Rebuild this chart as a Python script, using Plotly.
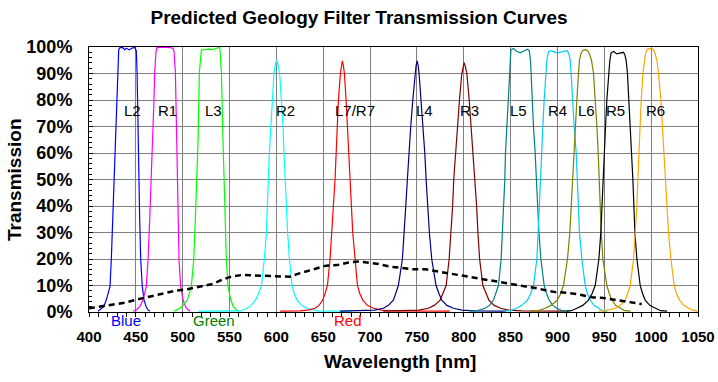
import plotly.graph_objects as go

# ---------------- data ----------------
L2_nm = [409.6, 411.4, 415.7, 418.5, 422.4, 423.8, 425.3, 427.4, 428.8, 429.9, 430.6, 431.7, 433, 436, 438, 440, 443, 446, 449, 450.5, 451.3, 452.3, 453.2, 454.1, 455.2, 456.9, 458.7, 461, 463, 465]
L2_t = [0.3, 0.8, 2.0, 4.6, 9.6, 19.7, 35, 50, 67.9, 80.5, 90.6, 98.9, 99.8, 99.8, 99.0, 99.5, 98.9, 99.6, 99.8, 98.5, 90.6, 65, 50, 35, 19.7, 9.6, 4.6, 2.0, 0.8, 0.3]

R1_nm = [447, 450.5, 454.5, 457.7, 461.2, 463, 464.8, 466.5, 467.6, 469.4, 470.1, 471.5, 472.6, 476, 481, 486, 489.7, 490.8, 492.2, 493.6, 494.3, 495, 496.1, 497.9, 500.4, 503, 505.7, 508]
R1_t = [0.3, 0.8, 2.2, 4.6, 9.6, 19.7, 35, 50, 65, 80.5, 90.6, 98.2, 99.8, 99.9, 99.9, 99.8, 99.5, 98.2, 90.6, 65, 50, 35, 19.7, 9.6, 4.6, 2.0, 0.8, 0.3]

L3_nm = [491, 494, 497.5, 500.5, 505, 509.2, 511.8, 513.5, 515.3, 516.4, 517.8, 519.3, 520, 524, 528, 532, 536, 539.5, 539.9, 541.3, 543, 544.1, 545.5, 546.6, 548.4, 551.3, 554, 557.3, 560]
L3_t = [0.3, 0.8, 1.6, 2.6, 4.6, 9.6, 19.7, 35, 50, 65, 90.6, 97.6, 98.9, 99.0, 99.2, 99.0, 99.4, 99.9, 98.5, 90.6, 65, 50, 35, 19.7, 9.6, 4.6, 2.0, 0.8, 0.3]

R2_nm = [517, 540, 555, 561.6, 568.7, 573, 577.6, 581, 584, 587.2, 589.3, 590.7, 591.4, 592.5, 593.9, 595.3, 597.4, 599, 600.3, 601.6, 603.5, 605.3, 607.1, 608.1, 609.2, 610.3, 612, 613.9, 616.7, 619, 622, 627, 632.7, 643.4, 660, 680]
R2_t = [0.3, 0.3, 0.3, 0.4, 1.4, 2.5, 4.5, 7, 10, 20, 30, 40, 50, 60, 70, 80, 90, 93.5, 95.1, 93.5, 90, 80, 70, 60, 50, 40, 30, 20, 10, 7, 4.5, 2.5, 1.4, 0.4, 0.3, 0.3]

L7_nm = [604, 625, 635, 641.3, 645.5, 649.5, 652, 654.5, 657.3, 659.4, 660.8, 662.6, 663.7, 664.8, 666.2, 668.3, 669.3, 670.4, 671.5, 672.6, 674.4, 675.8, 677.3, 678.3, 679.7, 681.5, 684, 686.5, 689, 692.2, 697, 703.6, 712, 725, 785]
L7_t = [0.3, 0.4, 0.8, 1.4, 2.5, 4.5, 7, 10, 20, 30, 40, 50, 60, 70, 80, 90, 93, 94.8, 93, 90, 80, 70, 60, 50, 40, 30, 20, 10, 7, 4.5, 2.5, 1.4, 0.7, 0.4, 0.3]

L4_nm = [668, 695, 705, 714.2, 719.5, 724.9, 727.5, 730.2, 734.5, 736.6, 738.1, 739.8, 741.3, 743.4, 745.6, 748, 749.1, 750.2, 751.3, 752.3, 754.4, 756.6, 758.4, 759.8, 761.5, 763.3, 765.8, 770.4, 773.5, 776.5, 782, 788.9, 798, 812, 845]
L4_t = [0.3, 0.4, 0.7, 1.4, 2.5, 4.5, 7, 10, 20, 30, 40, 50, 60, 70, 80, 90, 93, 94.8, 93, 90, 80, 70, 60, 50, 40, 30, 20, 10, 7, 4.5, 2.5, 1.4, 0.7, 0.4, 0.3]

R3_nm = [714, 740, 752, 762.3, 768.5, 774.8, 778, 781.2, 784.4, 786.6, 788.1, 789.3, 791.2, 793.3, 795.4, 797.9, 799.2, 800.4, 801.8, 803.3, 805.8, 807.9, 809.7, 811.5, 813.7, 815.1, 816.9, 820.4, 823.5, 826.8, 832.5, 839.3, 848, 862, 910]
R3_t = [0.3, 0.4, 0.7, 1.4, 2.5, 4.5, 7, 10, 20, 30, 40, 50, 60, 70, 80, 90, 92.5, 94.1, 92.5, 90, 80, 70, 60, 50, 40, 30, 20, 10, 7, 4.5, 2.5, 1.4, 0.7, 0.4, 0.3]

L5_nm = [806, 815, 822.8, 827.5, 831.7, 834.5, 837, 839.9, 841.3, 842.4, 843.8, 844.5, 846, 847, 848.4, 849.2, 850.3, 853, 856, 860.2, 864, 868, 870, 871.2, 871.9, 873, 874.4, 876.2, 877.3, 878.8, 880.2, 882.3, 885.8, 888.3, 891.1, 895, 899.4, 905, 912]
L5_t = [0.3, 0.5, 1.4, 2.5, 4.5, 7, 10, 20, 30, 40, 50, 60, 70, 80, 90, 95, 98.9, 99.4, 98.5, 97.8, 98.6, 99.2, 98.5, 95, 90, 80, 70, 60, 50, 40, 30, 20, 10, 7, 4.5, 2.5, 1.4, 0.5, 0.3]

R4_nm = [842, 850, 856.6, 862, 868, 871.5, 874.4, 878, 879.4, 880.5, 881.5, 882.6, 884.4, 885.8, 887.6, 888.7, 890.4, 893, 899.4, 905, 910.7, 912.5, 913.6, 914.6, 916, 917.8, 920, 921.4, 922.4, 923.5, 926, 929.6, 932, 934.9, 939, 943.8, 948, 953]
R4_t = [0.3, 0.5, 1.4, 2.5, 4.5, 7, 10, 20, 30, 40, 50, 60, 70, 80, 90, 95, 98.2, 98.6, 97.8, 98.2, 98.6, 97, 95, 90, 80, 70, 60, 50, 40, 30, 20, 10, 7, 4.5, 2.5, 1.4, 0.5, 0.3]

L6_nm = [871, 880, 886.9, 893, 900, 903.5, 906.4, 910.7, 913.2, 914.6, 916.4, 917.8, 919.2, 920.7, 922.4, 923.5, 925, 927, 929.6, 932, 934, 936.3, 938.5, 940.6, 942.1, 943.5, 944.5, 945.6, 946.7, 948.5, 952.7, 955.3, 958.1, 962, 966.9, 972, 978]
L6_t = [0.3, 0.5, 1.4, 2.5, 4.5, 7, 10, 20, 30, 40, 50, 60, 70, 80, 90, 95, 97.5, 98.7, 99.0, 98.7, 97.5, 95, 90, 80, 70, 60, 50, 40, 30, 20, 10, 7, 4.5, 2.5, 1.4, 0.5, 0.3]

R5_nm = [910, 915, 920.7, 927, 933.1, 937, 940.3, 944.2, 946.3, 947.4, 949.1, 950.2, 951.3, 952.7, 954.5, 955.9, 957.3, 960, 963.4, 967, 970.5, 972, 973.3, 974.7, 976.2, 977.6, 979.4, 980.5, 981.6, 982.6, 984.8, 988.3, 990.8, 993.6, 998.5, 1004.3, 1010, 1017]
R5_t = [0.3, 0.5, 1.4, 2.5, 4.5, 7, 10, 20, 30, 40, 50, 60, 70, 80, 90, 95, 97.8, 98.3, 97.4, 97.8, 98.0, 97, 95, 90, 80, 70, 60, 50, 40, 30, 20, 10, 7, 4.5, 2.5, 1.4, 0.5, 0.3]

R6_nm = [944, 950, 955, 961.6, 967, 972.3, 975, 977.6, 981.2, 983.3, 984.8, 985.8, 986.9, 988.3, 989.4, 991.2, 992.6, 994, 996, 999, 1002, 1004, 1006.1, 1007.9, 1010.4, 1012.1, 1013.9, 1015, 1016.8, 1018.5, 1021.1, 1024.6, 1027, 1030.2, 1035, 1039.9, 1045, 1050]
R6_t = [0.3, 0.4, 0.8, 1.4, 2.5, 4.5, 7, 10, 20, 30, 40, 50, 60, 70, 80, 90, 95, 97.5, 99.2, 99.4, 99.2, 97.8, 95, 90, 80, 70, 60, 50, 40, 30, 20, 10, 7, 4.5, 2.5, 1.4, 0.6, 0.3]

# dashed black curve
dash_nm = [400, 408, 425, 438, 452, 468, 480, 492, 505, 519, 532, 543, 552, 564, 582, 600, 614, 622, 640, 653, 665, 677, 688, 698, 709, 722, 734, 746, 759, 769, 780, 795, 810, 820, 830, 840, 851, 860, 871, 880, 890, 898, 909, 920, 931, 938, 947, 956, 965, 973, 981, 990]
dash_t = [1.4, 1.8, 2.6, 3.5, 4.8, 6.0, 7.0, 8.0, 8.6, 9.5, 10.6, 12.3, 13.4, 14.0, 13.7, 13.3, 13.3, 14.3, 16.1, 17.5, 17.7, 18.7, 19.1, 18.6, 18.1, 17.1, 16.5, 16.1, 16.1, 15.5, 14.8, 14.0, 13.2, 12.5, 11.8, 11.4, 10.6, 10.1, 9.5, 8.8, 8.0, 7.5, 7.3, 6.8, 6.0, 5.5, 5.4, 4.9, 4.3, 3.7, 3.3, 3.0]

filter_names = ["L2", "R1", "L3", "R2", "L7/R7", "L4", "R3", "L5", "R4", "L6", "R5", "R6"]
filter_colors = ["#0000FF", "#FF00FF", "#00FF00", "#00FFFF", "#FF0000", "#000080",
                 "#800000", "#008080", "#00CCFF", "#808000", "#000000", "#FFA500"]
label_x = [446.7, 484.3, 533.1, 609.8, 683.7, 758.4, 805.9, 858.8, 899.7, 930.9, 961.8, 1004.1]
label_y = 75.9

band_names = ["Blue", "Green", "Red"]
band_colors = ["#0000FF", "#008000", "#FF0000"]
band_x = [439.3, 532.9, 676.5]

x_ticks = list(range(400, 1051, 50))
y_ticks = list(range(0, 101, 10))

curves = [(L2_nm, L2_t), (R1_nm, R1_t), (L3_nm, L3_t), (R2_nm, R2_t), (L7_nm, L7_t),
          (L4_nm, L4_t), (R3_nm, R3_t), (L5_nm, L5_t), (R4_nm, R4_t), (L6_nm, L6_t),
          (R5_nm, R5_t), (R6_nm, R6_t)]

FONT = "Liberation Sans, Arial, Helvetica, sans-serif"
W, H = 718, 382
PL, PR, PT, PB = 89, 698, 47, 312   # plot-area pixel box


def paper_x(px):
    return (px - PL) / (PR - PL)


def paper_y(py):
    return (PB - py) / (PB - PT)


fig = go.Figure()
for (xs, ys), name, col in zip(curves, filter_names, filter_colors):
    fig.add_trace(go.Scatter(x=xs, y=ys, mode="lines", name=name,
                             line=dict(color=col, width=1.2)))

fig.add_trace(go.Scatter(x=dash_nm, y=dash_t, mode="lines", name="dashed",
                         line=dict(color="#000000", width=2.5, dash="6px,4px")))

annotations = []
for name, x in zip(filter_names, label_x):
    annotations.append(dict(x=x, y=label_y, xref="x", yref="y", text=name,
                            showarrow=False, xanchor="center", yanchor="middle",
                            font=dict(family=FONT, size=15, color="#000000")))
for name, col, x in zip(band_names, band_colors, band_x):
    annotations.append(dict(x=x, y=paper_y(320), xref="x", yref="paper", text=name,
                            showarrow=False, xanchor="center", yanchor="middle",
                            font=dict(family=FONT, size=15, color=col)))
# axis titles
annotations.append(dict(x=paper_x(400), y=paper_y(361), xref="paper", yref="paper",
                        text="<b>Wavelength [nm]</b>", showarrow=False,
                        xanchor="center", yanchor="middle",
                        font=dict(family=FONT, size=19, color="#000000")))
annotations.append(dict(x=paper_x(14), y=paper_y(180), xref="paper", yref="paper",
                        text="<b>Transmission</b>", showarrow=False, textangle=-90,
                        xanchor="center", yanchor="middle",
                        font=dict(family=FONT, size=19, color="#000000")))

fig.update_layout(
    width=W, height=H,
    margin=dict(l=PL, r=W - PR, t=PT, b=H - PB, pad=0, autoexpand=False),
    paper_bgcolor="white", plot_bgcolor="white",
    showlegend=False,
    title=dict(text="<b>Predicted Geology Filter Transmission Curves</b>",
               x=0.5, xref="container", xanchor="center",
               y=1 - 17 / H, yref="container", yanchor="middle",
               font=dict(family=FONT, size=19, color="#000000")),
    annotations=annotations,
)

fig.update_xaxes(
    range=[400, 1050], tickvals=x_ticks, ticktext=[str(v) for v in x_ticks],
    showgrid=True, gridcolor="#808080", gridwidth=1,
    showline=True, linecolor="#000000", linewidth=1, mirror=True,
    ticks="outside", ticklen=4, tickcolor="#000000", tickwidth=1,
    ticklabelstandoff=7,
    minor=dict(dtick=10, tick0=400, ticks="outside", ticklen=4, tickcolor="#000000", showgrid=False),
    tickfont=dict(family=FONT, size=15, color="#000000", weight="bold"),
    zeroline=False, fixedrange=True,
)
fig.update_yaxes(
    range=[0, 100], tickvals=y_ticks, ticktext=[f"{v}%" for v in y_ticks],
    showgrid=True, gridcolor="#808080", gridwidth=1,
    showline=True, linecolor="#000000", linewidth=1, mirror=True,
    ticks="inside", ticklen=4, tickcolor="#000000", tickwidth=1,
    ticklabelstandoff=12,
    minor=dict(dtick=2, tick0=0, ticks="inside", ticklen=3, tickcolor="#000000", showgrid=False),
    tickfont=dict(family=FONT, size=18, color="#000000", weight="bold"),
    zeroline=False, fixedrange=True,
)

fig.write_html("out.html", config={"displayModeBar": False},
               post_script="document.body.style.margin='0';document.body.style.overflow='hidden';")
